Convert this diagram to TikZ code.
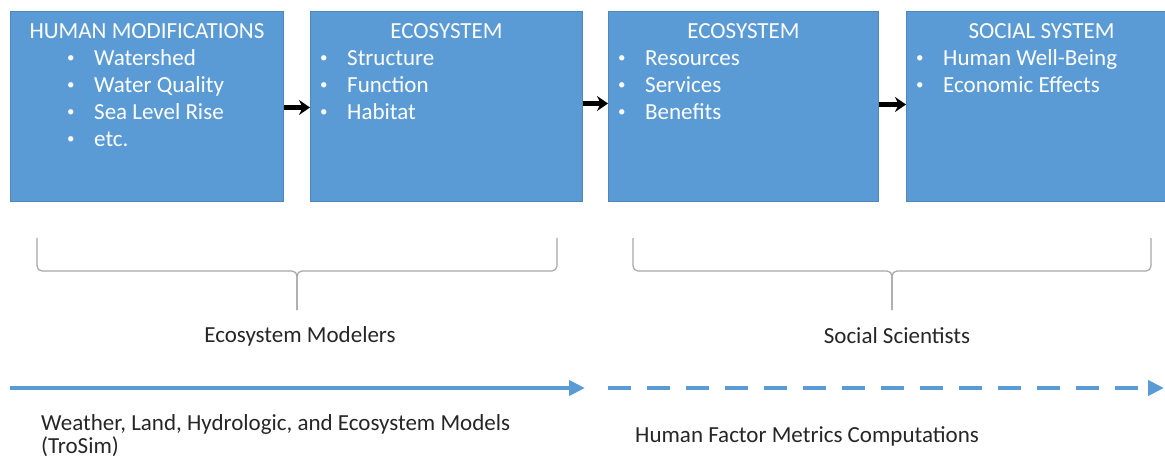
\documentclass[tikz,border=0pt]{standalone}
\usepackage{fontspec}
\setmainfont{Carlito}
\usetikzlibrary{arrows.meta}
\definecolor{boxblue}{HTML}{5B9BD5}
\definecolor{boxline}{HTML}{4F87BA}
\definecolor{bracegray}{HTML}{A6A6A6}
\tikzset{>={Stealth[length=11pt,width=15pt]}}
\tikzset{
  stage/.style={draw=boxline, fill=boxblue, line width=1pt, anchor=north west, minimum height=190pt, inner sep=0pt},
  boxtitle/.style={anchor=base, text=white, inner sep=0pt, font=\fontsize{23}{27}\selectfont},
  boxitems/.style={anchor=base west, text=white, align=left, inner sep=0pt, font=\fontsize{23}{27}\selectfont},
  flow/.style={->, line width=4.5pt, black},
  curly/.style={draw=bracegray, line width=1.2pt, rounded corners=5pt},
  who/.style={anchor=base, inner sep=0pt, text=black!85, font=\fontsize{23}{23}\selectfont},
  track/.style={-{Triangle[length=16pt,width=15pt]}, draw=boxblue, line width=4.5pt}
}
\newcommand{\bul}{\makebox[28pt][l]{\hspace{1pt}\raisebox{2.5pt}{\fontsize{15}{15}\selectfont\textbullet}}}

\begin{document}
\begin{tikzpicture}[x=1pt,y=1pt]
\useasboundingbox (0,0) rectangle (1165,-459);
% stages
\node[stage, minimum width=273pt] (b1) at (10,-11) {};
\node[stage, minimum width=272pt] (b2) at (310,-11) {};
\node[stage, minimum width=270pt] (b3) at (608,-11) {};
\node[stage, minimum width=270pt] (b4) at (906,-11) {};
\node[boxtitle] (t1) at ([yshift=-27pt]b1.north) {HUMAN MODIFICATIONS};
\node[boxtitle] (t2) at ([yshift=-27pt]b2.north) {ECOSYSTEM};
\node[boxtitle] (t3) at ([yshift=-27pt]b3.north) {ECOSYSTEM};
\node[boxtitle] (t4) at ([yshift=-27pt]b4.north) {SOCIAL SYSTEM};
% item lists, anchored at the baseline of their last line
\node[boxitems] (l1) at ([xshift=56pt,yshift=-135pt]b1.north west)
  {\bul Watershed\\ \bul Water Quality\\ \bul Sea Level Rise\\ \bul etc.};
\node[boxitems] (l2) at ([xshift=9pt,yshift=-108pt]b2.north west)
  {\bul Structure\\ \bul Function\\ \bul Habitat};
\node[boxitems] (l3) at ([xshift=9pt,yshift=-108pt]b3.north west)
  {\bul Resources\\ \bul Services\\ \bul Benefits};
\node[boxitems] (l4) at ([xshift=9pt,yshift=-81pt]b4.north west)
  {\bul Human Well-Being\\ \bul Economic Effects};
\draw[flow] ([yshift=-1pt]b1.east) -- ([yshift=-1pt]b2.west);
\draw[flow] ([yshift=3pt]b2.east) -- ([yshift=3pt]b3.west);
\draw[flow] ([yshift=2pt]b3.east) -- ([yshift=2pt]b4.west);
% braces
\draw[curly] (37,-238) -- (37,-271) -- (297,-271) -- (297,-310);
\draw[curly] (557,-238) -- (557,-271) -- (297,-271) -- (297,-310);
\draw[curly] (633,-238) -- (633,-271) -- (892,-271) -- (892,-310);
\draw[curly] (1151,-238) -- (1151,-271) -- (892,-271) -- (892,-310);
\node[who] (m1) at (300,-342) {Ecosystem Modelers};
\node[who] (m2) at (897,-343) {Social Scientists};
% time line
\coordinate (s0) at (10,-388);
\coordinate (s1) at (585,-388);
\coordinate (d0) at (608,-388);
\coordinate (d1) at (1164,-388);
\draw[track] (s0) -- (s1);
\draw[track, dash pattern=on 23pt off 16pt] (d0) -- (d1);
\node[who, anchor=base west, align=left] (w1) at (41,-453)
  {Weather, Land, Hydrologic, and Ecosystem Models\\(TroSim)};
\node[who, anchor=base west] (w2) at (635,-442) {Human Factor Metrics Computations};
\end{tikzpicture}
\end{document}
